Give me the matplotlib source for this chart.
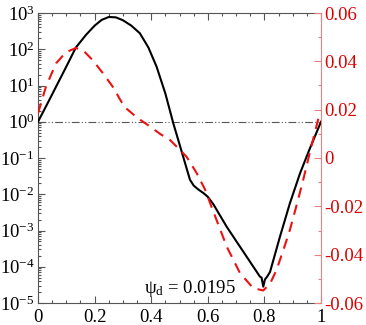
import numpy as np
import matplotlib
matplotlib.use("Agg")
import matplotlib.pyplot as plt
from matplotlib.ticker import LogLocator, MultipleLocator, NullFormatter

plt.rcParams['font.family'] = ['Liberation Serif', 'DejaVu Serif']
plt.rcParams['mathtext.fontset'] = 'custom'
plt.rcParams['mathtext.rm'] = 'Liberation Serif'
plt.rcParams['mathtext.it'] = 'Liberation Serif:italic'

# Black solid curve (left log axis): x and log10(value)
black_x = [0.00, 0.03, 0.064, 0.10, 0.134, 0.17, 0.20, 0.225, 0.25, 0.275, 0.30,
           0.33, 0.36, 0.39, 0.419, 0.45, 0.478, 0.50, 0.52, 0.537, 0.55, 0.565,
           0.585, 0.60, 0.62, 0.667, 0.714, 0.761, 0.784, 0.79, 0.796, 0.802,
           0.81, 0.82, 0.855, 0.89, 0.926, 0.96, 1.0]
black_log = [0.0, 0.45, 0.97, 1.52, 2.05, 2.40, 2.65, 2.81, 2.89, 2.88, 2.80,
             2.65, 2.44, 2.05, 1.52, 0.78, -0.04, -0.62, -1.15, -1.60, -1.76, -1.86,
             -1.97, -2.07, -2.28, -2.90, -3.45, -4.00, -4.27, -4.30, -4.55, -4.35,
             -4.27, -4.14, -3.17, -2.25, -1.42, -0.75, 0.0]

# Red dashed curve (right linear axis)
red_x = [0.00, 0.028, 0.064, 0.099, 0.134, 0.16, 0.193, 0.23, 0.264, 0.305, 0.349,
         0.396, 0.431, 0.466, 0.50, 0.525, 0.561, 0.59, 0.619, 0.667, 0.714, 0.761,
         0.796, 0.82, 0.843, 0.87, 0.89, 0.915, 0.937, 0.96, 0.99, 1.0]
red_val = [0.0185, 0.0295, 0.0392, 0.0438, 0.0455, 0.0445, 0.0405, 0.035, 0.0295,
           0.0212, 0.0168, 0.0130, 0.0100, 0.0075, 0.0035, 0.0005, -0.0063, -0.013,
           -0.0220, -0.0367, -0.0477, -0.0539, -0.0548, -0.052, -0.0463, -0.037,
           -0.0298, -0.019, -0.0091, 0.002, 0.016, 0.0185]

x_ticks = [0, 0.2, 0.4, 0.6, 0.8, 1.0]
x_labels = ['0', '0.2', '0.4', '0.6', '0.8', '1']
left_exps = [-5, -4, -3, -2, -1, 0, 1, 2, 3]
right_ticks = [-0.06, -0.04, -0.02, 0, 0.02, 0.04, 0.06]
right_labels = ['-0.06', '-0.04', '-0.02', '0', '0.02', '0.04', '0.06']
ref_level = 1.0
annot = 'ψ$_{\\rm d}$ = 0.0195'

fig = plt.figure(figsize=(3.66, 3.25), dpi=100)
ax = fig.add_axes([38/366, 1-303/325, 283/366, 290/325])
ax2 = ax.twinx()

fs = 13.5
gray = '#555555'
red = '#dd0000'

ax.set_yscale('log')
ax.set_xlim(0, 1)
ax.set_ylim(1e-5, 1e3)
ax.plot(black_x, np.power(10.0, black_log), color='black', lw=1.5, zorder=3)
ax.axhline(ref_level, color=gray, lw=0.8, dashes=(7, 2, 1, 2, 1, 2), zorder=2)

ax.set_xticks(x_ticks)
ax.set_xticklabels(x_labels, fontsize=fs)
ax.xaxis.set_minor_locator(MultipleLocator(0.05))
ax.set_yticks([10.0**e for e in left_exps])
ax.set_yticklabels([r'$10^{%d}$' % e for e in left_exps], fontsize=fs)
ax.yaxis.set_minor_locator(LogLocator(base=10, subs=np.arange(2, 10)))
ax.yaxis.set_minor_formatter(NullFormatter())
ax.tick_params(axis='both', which='both', direction='in', colors=gray, labelcolor='black',
               top=True, right=False, width=0.8)
ax.tick_params(axis='both', which='major', length=5)
ax.tick_params(axis='x', which='major', pad=4.5)
ax.tick_params(axis='y', which='major', pad=2.5)
ax.tick_params(axis='both', which='minor', length=2.5)
for s in ['left', 'top', 'bottom']:
    ax.spines[s].set_color(gray)
    ax.spines[s].set_linewidth(0.8)
ax.spines['right'].set_visible(False)

ax2.set_ylim(-0.06, 0.06)
ax2.plot(red_x, red_val, color='#ee1111', lw=1.5, dashes=(5, 3.5), zorder=3)
ax2.set_yticks(right_ticks)
ax2.set_yticklabels(right_labels, fontsize=fs, color=red)
ax2.yaxis.set_minor_locator(MultipleLocator(0.01))
ax2.tick_params(axis='y', which='both', direction='in', colors='#f08080', labelcolor=red, width=0.8)
ax2.tick_params(axis='y', which='major', length=5, pad=2)
ax2.tick_params(axis='y', which='minor', length=2.5)
ax2.spines['right'].set_color('#f08080')
ax2.spines['right'].set_linewidth(0.8)
for s in ['left', 'top', 'bottom']:
    ax2.spines[s].set_visible(False)

ax.text(0.537, 0.0355, annot, transform=ax.transAxes, ha='center', va='baseline', fontsize=fs)

fig.savefig('out.png', dpi=100)
